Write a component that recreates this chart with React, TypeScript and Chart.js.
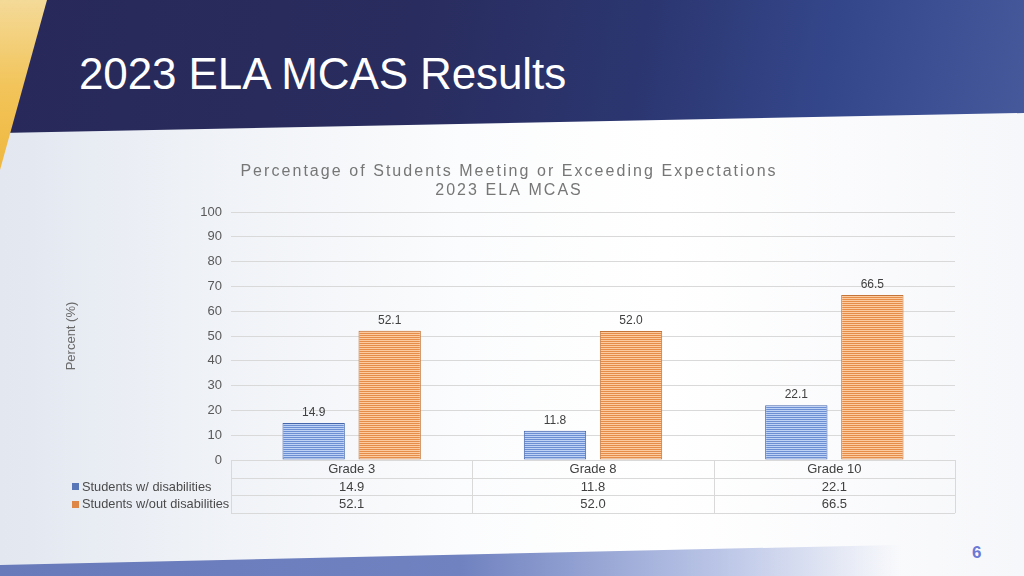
import React, { useEffect, useRef } from 'react';
import { Chart, registerables } from 'chart.js';

Chart.register(...registerables);

// ---------- data ----------
const slideTitle = '2023 ELA MCAS Results';
const pageNumber = '6';
const chartTitleLines = ['Percentage of Students Meeting or Exceeding Expectations', '2023 ELA MCAS'];
const yAxisTitle = 'Percent (%)';
const categories = ['Grade 3', 'Grade 8', 'Grade 10'];
const seriesNames = ['Students w/ disabilities', 'Students w/out disabilities'];
const withDisabilities = [14.9, 11.8, 22.1];
const withoutDisabilities = [52.1, 52.0, 66.5];
const yMin = 0;
const yMax = 100;
const yStep = 10;

// ---------- styles ----------
const FONT = '"Liberation Sans", Arial, Helvetica, sans-serif';
const BLUE_LIGHT = '#bed2f6';
const BLUE_DARK = '#6c8fd4';
const BLUE_BORDER = '#4566aa';
const BLUE_KEY = '#5676b8';
const ORANGE_LIGHT = '#fccb9f';
const ORANGE_DARK = '#e78d4a';
const ORANGE_BORDER = '#c47438';
const ORANGE_KEY = '#de8646';

function stripePattern(light: string, dark: string): CanvasPattern | string {
  const c = document.createElement('canvas');
  c.width = 4;
  c.height = 2;
  const x = c.getContext('2d');
  if (!x) return dark;
  x.fillStyle = light;
  x.fillRect(0, 0, 4, 2);
  x.fillStyle = dark;
  x.fillRect(0, 1, 4, 1);
  return x.createPattern(c, 'repeat') || dark;
}

const spacedTitlePlugin = {
  id: 'spacedTitle',
  afterDraw(chart: any) {
    const ctx = chart.ctx as CanvasRenderingContext2D;
    ctx.save();
    ctx.font = `16px ${FONT}`;
    ctx.fillStyle = '#767676';
    ctx.textAlign = 'left';
    ctx.textBaseline = 'alphabetic';
    const spacing = 2.05;
    const cx = 508;
    const baselines = [176, 195];
    chartTitleLines.forEach((line, li) => {
      const chars = Array.from(line);
      const widths = chars.map((ch) => ctx.measureText(ch).width);
      const total = widths.reduce((a, b) => a + b, 0) + spacing * (chars.length - 1);
      let x = cx - total / 2;
      chars.forEach((ch, i) => {
        ctx.fillText(ch, x, baselines[li]);
        x += widths[i] + spacing;
      });
    });
    ctx.restore();
  },
};

const valueLabelPlugin = {
  id: 'valueLabels',
  afterDatasetsDraw(chart: any) {
    const ctx = chart.ctx as CanvasRenderingContext2D;
    ctx.save();
    ctx.font = `12px ${FONT}`;
    ctx.fillStyle = '#404040';
    ctx.textAlign = 'center';
    ctx.textBaseline = 'alphabetic';
    chart.data.datasets.forEach((ds: any, di: number) => {
      const meta = chart.getDatasetMeta(di);
      meta.data.forEach((el: any, i: number) => {
        const v = ds.data[i] as number;
        ctx.fillText(v.toFixed(1), el.x, el.y - 7);
      });
    });
    ctx.restore();
  },
};

const dataTablePlugin = {
  id: 'dataTable',
  afterDraw(chart: any) {
    const ctx = chart.ctx as CanvasRenderingContext2D;
    const { left, right, bottom } = chart.chartArea;
    const xs = chart.scales.x;
    const rowH = 17.7;
    const rowsY = [bottom, bottom + rowH, bottom + 2 * rowH, bottom + 3 * rowH];
    const centers = categories.map((_, i) => xs.getPixelForValue(i));
    const bounds: number[] = [left];
    for (let i = 0; i < centers.length - 1; i++) bounds.push((centers[i] + centers[i + 1]) / 2);
    bounds.push(right);

    ctx.save();
    ctx.strokeStyle = '#d9d9d9';
    ctx.lineWidth = 1;
    ctx.beginPath();
    rowsY.forEach((y) => {
      const yy = Math.round(y) + 0.5;
      ctx.moveTo(left, yy);
      ctx.lineTo(right, yy);
    });
    bounds.forEach((bx) => {
      const xx = Math.round(bx) + 0.5;
      ctx.moveTo(xx, rowsY[0]);
      ctx.lineTo(xx, rowsY[3]);
    });
    ctx.stroke();

    ctx.font = `13px ${FONT}`;
    ctx.fillStyle = '#404040';
    ctx.textAlign = 'center';
    ctx.textBaseline = 'middle';
    const rows: string[][] = [
      categories,
      withDisabilities.map((v) => v.toFixed(1)),
      withoutDisabilities.map((v) => v.toFixed(1)),
    ];
    rows.forEach((cells, r) => {
      const cy = (rowsY[r] + rowsY[r + 1]) / 2 + 0.5;
      cells.forEach((txt, i) => ctx.fillText(txt, centers[i], cy));
    });

    // legend keys + names on the left of the series rows
    const keys = [BLUE_KEY, ORANGE_KEY];
    ctx.textAlign = 'left';
    ctx.font = `12.8px ${FONT}`;
    chart.data.datasets.forEach((ds: any, di: number) => {
      const cy = (rowsY[di + 1] + rowsY[di + 2]) / 2;
      ctx.fillStyle = keys[di];
      ctx.fillRect(72, Math.round(cy - 3.5), 7, 7);
      ctx.fillStyle = '#4a4a4a';
      ctx.fillText(seriesNames[di], 82, cy + 0.5);
    });
    ctx.restore();
  },
};

function ChartCanvas() {
  const ref = useRef<HTMLCanvasElement | null>(null);
  useEffect(() => {
    if (!ref.current) return;
    Chart.defaults.font.family = FONT;
    const chart = new Chart(ref.current, {
      type: 'bar',
      data: {
        labels: categories,
        datasets: [
          {
            label: seriesNames[0],
            data: withDisabilities,
            backgroundColor: stripePattern(BLUE_LIGHT, BLUE_DARK) as any,
            borderColor: BLUE_BORDER,
            borderWidth: 1,
            borderSkipped: false,
            categoryPercentage: 0.63,
            barPercentage: 0.82,
          },
          {
            label: seriesNames[1],
            data: withoutDisabilities,
            backgroundColor: stripePattern(ORANGE_LIGHT, ORANGE_DARK) as any,
            borderColor: ORANGE_BORDER,
            borderWidth: 1,
            borderSkipped: false,
            categoryPercentage: 0.63,
            barPercentage: 0.82,
          },
        ],
      },
      options: {
        responsive: false,
        animation: false,
        devicePixelRatio: 1,
        layout: { padding: { left: 60, top: 212, right: 69, bottom: 116 } },
        plugins: {
          legend: { display: false },
          title: { display: false },
          tooltip: { enabled: false },
        },
        scales: {
          x: {
            ticks: { display: false },
            grid: { display: false },
            border: { display: false },
            afterFit: (s: any) => {
              s.height = 0;
            },
          },
          y: {
            min: yMin,
            max: yMax,
            ticks: { stepSize: yStep, color: '#595959', font: { size: 13 }, padding: 9 },
            grid: { color: '#d9d9d9', drawTicks: false, lineWidth: 1 },
            border: { display: false },
            title: {
              display: true,
              text: yAxisTitle,
              color: '#6a6a6a',
              font: { size: 13 },
              padding: { top: 4, bottom: 4 },
            },
            afterFit: (s: any) => {
              s.width = 171;
            },
          },
        },
      },
      plugins: [valueLabelPlugin, dataTablePlugin, spacedTitlePlugin],
    } as any);
    return () => chart.destroy();
  }, []);
  return (
    <canvas
      ref={ref}
      width={1024}
      height={576}
      style={{ position: 'absolute', left: 0, top: 0, width: 1024, height: 576 }}
    />
  );
}

export default function App() {
  return (
    <div
      style={{
        position: 'fixed',
        left: 0,
        top: 0,
        width: 1024,
        height: 576,
        overflow: 'hidden',
        fontFamily: FONT,
        background:
          'linear-gradient(to right, #e2e7f0 0%, #eef1f6 18%, #fbfcfd 45%, #ffffff 65%, #f6f7fa 100%)',
      }}
    >
      {/* header band */}
      <div
        style={{
          position: 'absolute',
          left: 0,
          top: 0,
          width: 1024,
          height: 140,
          clipPath: 'polygon(0 0, 1024px 0, 1024px 113px, 0 133px)',
          background:
            'linear-gradient(100deg, #28295a 0%, #292c5e 40%, #2b3670 62%, #34468a 80%, #45599b 100%)',
        }}
      />
      {/* yellow strip */}
      <div
        style={{
          position: 'absolute',
          left: 0,
          top: 0,
          width: 50,
          height: 172,
          clipPath: 'polygon(0 0, 47px 0, 0 170px)',
          background: 'linear-gradient(to bottom, #f4da98 0%, #f2c45a 50%, #efb83e 100%)',
        }}
      />
      {/* bottom band */}
      <div
        style={{
          position: 'absolute',
          left: 0,
          top: 530,
          width: 1024,
          height: 46,
          clipPath: 'polygon(0 35px, 1024px 12px, 1024px 46px, 0 46px)',
          background:
            'linear-gradient(to right, rgba(104,122,186,1) 0%, rgba(112,130,192,1) 45%, rgba(140,158,214,0.6) 70%, rgba(200,210,238,0) 88%)',
        }}
      />
      {/* slide title */}
      <div
        style={{
          position: 'absolute',
          left: 79,
          top: 52,
          fontSize: 44,
          lineHeight: '44px',
          letterSpacing: '-0.1px',
          color: '#ffffff',
          whiteSpace: 'nowrap',
        }}
      >
        {slideTitle}
      </div>
      {/* page number */}
      <div
        style={{
          position: 'absolute',
          left: 972,
          top: 544,
          fontSize: 17,
          lineHeight: '17px',
          fontWeight: 'bold',
          color: '#6b79d6',
        }}
      >
        {pageNumber}
      </div>
      <ChartCanvas />
    </div>
  );
}
